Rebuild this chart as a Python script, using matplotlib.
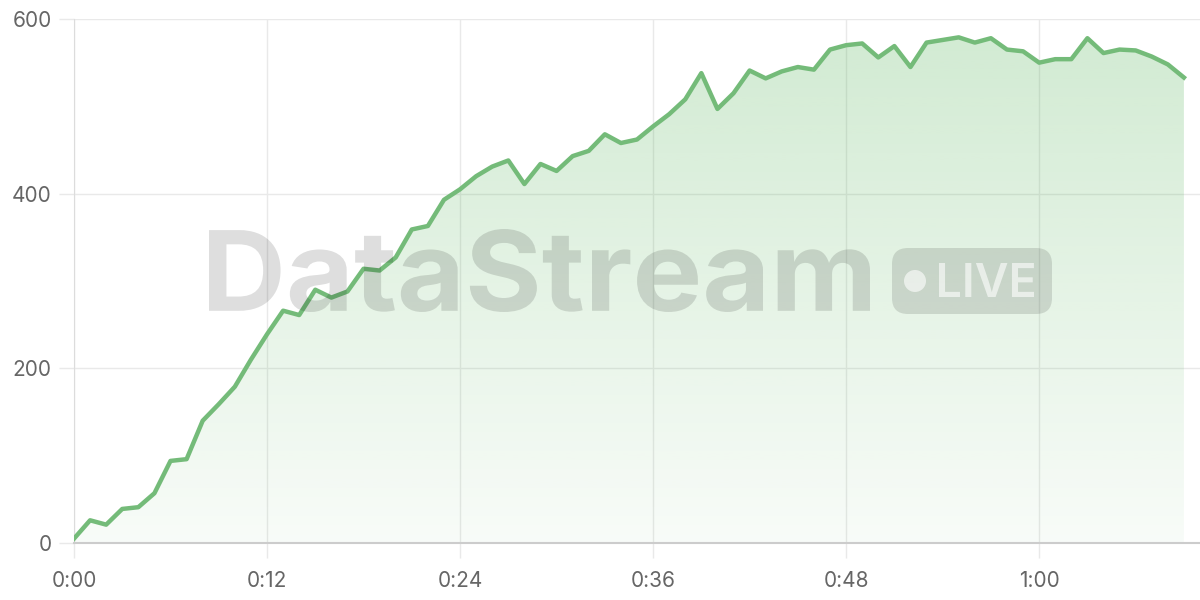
import numpy as np
import matplotlib
matplotlib.use("Agg")
import matplotlib.pyplot as plt
from matplotlib.patches import FancyBboxPatch, Circle, PathPatch
from matplotlib.textpath import TextPath
from matplotlib.font_manager import FontProperties
from matplotlib.transforms import Affine2D
from matplotlib.colors import to_rgb

# minutes since start, one reading per minute
minutes = list(range(70))
values = [5, 26, 21, 39, 41, 57, 94, 96, 140, 159,
          179, 210, 239, 266, 261, 290, 281, 288, 314, 312,
          327, 359, 363, 393, 405, 420, 431, 438, 411, 434,
          426, 443, 449, 468, 458, 462, 477, 491, 508, 538,
          497, 515, 541, 532, 540, 545, 542, 565, 570, 572,
          556, 569, 545, 573, 576, 579, 573, 578, 565, 563,
          550, 554, 554, 578, 561, 565, 564, 557, 548, 533]

x_ticks = [0, 12, 24, 36, 48, 60]
x_tick_labels = ["0:00", "0:12", "0:24", "0:36", "0:48", "1:00"]
y_ticks = [0, 200, 400, 600]

LINE = "#74bb79"
GRID = "#e9e9e9"
TEXT = "#666666"

plt.rcParams['font.family'] = ['Inter', 'DejaVu Sans']

fig = plt.figure(figsize=(12, 6), dpi=100)
ax = fig.add_axes([74 / 1200, 57 / 600, 1 - 74 / 1200, (543 - 19) / 600])
ax.set_xlim(0, 70)
ax.set_ylim(0, 600)

# gradient fill under the line
x = np.array(minutes)
y = np.array(values)
poly = ax.fill_between(x, y, 0, color="none", zorder=1)
g = np.linspace(0, 1, 256).reshape(-1, 1)
rgba = np.zeros((256, 1, 4))
rgba[..., :3] = to_rgb("#4caf50")
rgba[..., 3] = 0.04 + 0.22 * g
img = ax.imshow(rgba, extent=[0, 70, 0, 600], origin="lower", aspect="auto",
                zorder=1, interpolation="bilinear")
img.set_clip_path(poly.get_paths()[0], transform=ax.transData)

ax.plot(x, y, color=LINE, lw=3.2, zorder=4)

ax.set_xticks(x_ticks)
ax.set_xticklabels(x_tick_labels)
ax.set_yticks(y_ticks)
ax.grid(True, color=GRID, lw=1, zorder=0)
ax.set_axisbelow(True)
ax.tick_params(axis="both", length=11, width=1, color=GRID, labelsize=15,
               labelcolor=TEXT)
ax.tick_params(axis="x", pad=9)
ax.tick_params(axis="y", pad=5)
for s in ["top", "right"]:
    ax.spines[s].set_visible(False)
ax.spines["left"].set_color("#dcdcdc")
ax.spines["bottom"].set_color("#cccccc")
ax.spines["bottom"].set_linewidth(1.5)


# watermark, drawn as a path fitted to a pixel box (origin bottom-left)
def fitted_text(s, x0, x1, top, bottom, weight, **kw):
    tp = TextPath((0, 0), s, size=100, prop=FontProperties(family="Inter", weight=weight))
    ext = tp.get_extents()
    H = 600
    tr = (Affine2D().translate(-ext.x0, -ext.y0)
          .scale((x1 - x0) / ext.width, (bottom - top) / ext.height)
          .translate(x0, H - bottom))
    patch = PathPatch(tr.transform_path(tp), transform=None, lw=0, **kw)
    fig.add_artist(patch)


fitted_text("DataStream", 209, 870, 229, 312, "bold",
            facecolor="black", alpha=0.13, zorder=3)

pill = FancyBboxPatch((892 + 16, 600 - 314 + 16), 160 - 32, 66 - 32,
                      boxstyle="round,pad=16", transform=None,
                      facecolor="black", alpha=0.12, edgecolor="none", zorder=3)
fig.add_artist(pill)
fig.add_artist(Circle((915, 600 - 281), 11, transform=None, facecolor="white",
                      alpha=0.6, edgecolor="none", zorder=3.5))
fitted_text("LIVE", 939, 1034, 263, 297, "semibold",
            facecolor="white", alpha=0.6, zorder=3.5)

fig.savefig("out.png", dpi=100)
